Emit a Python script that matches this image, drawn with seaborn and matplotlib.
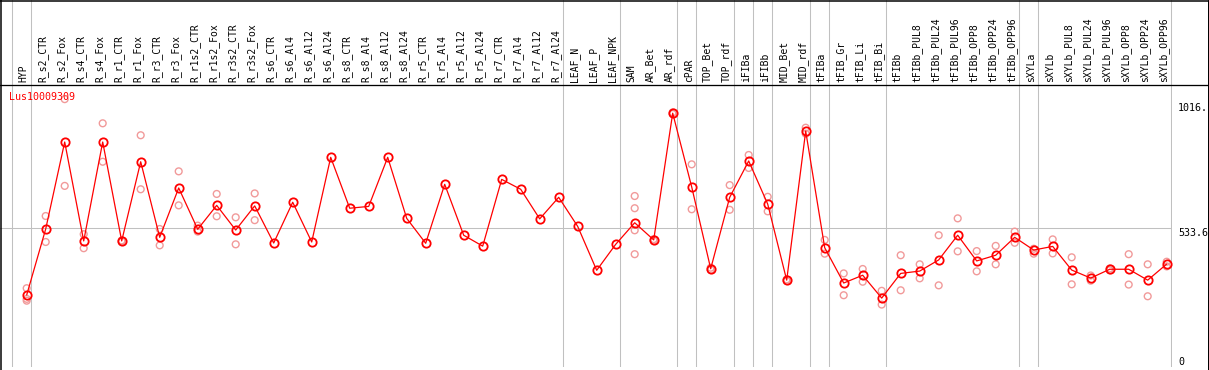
import numpy as np
import pandas as pd
import matplotlib
matplotlib.use("Agg")
import matplotlib.pyplot as plt
import seaborn as sns

nan = np.nan

categories = [
    "HYP", "R_s2_CTR", "R_s2_Fox", "R_s4_CTR", "R_s4_Fox", "R_r1_CTR", "R_r1_Fox",
    "R_r3_CTR", "R_r3_Fox", "R_r1s2_CTR", "R_r1s2_Fox", "R_r3s2_CTR", "R_r3s2_Fox",
    "R_s6_CTR", "R_s6_Al4", "R_s6_Al12", "R_s6_Al24", "R_s8_CTR", "R_s8_Al4",
    "R_s8_Al12", "R_s8_Al24", "R_r5_CTR", "R_r5_Al4", "R_r5_Al12", "R_r5_Al24",
    "R_r7_CTR", "R_r7_Al4", "R_r7_Al12", "R_r7_Al24", "LEAF_N", "LEAF_P", "LEAF_NPK",
    "SAM", "AR_Bet", "AR_rdf", "cPAR", "TOP_Bet", "TOP_rdf", "iFIBa", "iFIBb",
    "MID_Bet", "MID_rdf", "tFIBa", "tFIB_Gr", "tFIB_Li", "tFIB_Bi", "tFIBb",
    "tFIBb_PUL8", "tFIBb_PUL24", "tFIBb_PUL96", "tFIBb_OPP8", "tFIBb_OPP24", "tFIBb_OPP96",
    "sXYLa", "sXYLb", "sXYLb_PUL8", "sXYLb_PUL24", "sXYLb_PUL96", "sXYLb_OPP8",
    "sXYLb_OPP24", "sXYLb_OPP96",
]

mean_values = [
    277, 531, 866, 485, 866, 485, 790, 499, 689, 530, 622, 527, 620,
    477, 634, 481, 807, 611, 618, 807, 572, 476, 703, 507, 465,
    722, 684, 570, 653, 541, 372, 472,
    555, 489, 977, 693, 378, 653, 793, 627, 334, 908,
    459, 323, 353, 265, 360, 369, 412, 507, 408, 430, 499,
    450, 464, 373, 342, 376, 376, 334, 396,
]

rep_a = [
    303, 581, 1031, 511, 938, 487, 892, 531, 753, 544, 666, 576, 668,
    nan, nan, nan, nan, nan, nan, nan, nan, nan, nan, nan, nan,
    nan, nan, nan, nan, nan, nan, nan,
    658, 492, 980, 780, 382, 700, 816, 655, 337, 921,
    489, 360, 377, 293, 430, 395, 507, 572, 446, 466, 521,
    455, 491, 422, 352, 379, 434, 395, 405,
]

rep_b = [
    262, 481, 697, 457, 790, 483, 684, 468, 622, 521, 580, 472, 565,
    nan, nan, nan, nan, nan, nan, nan, nan, nan, nan, nan, nan,
    nan, nan, nan, nan, nan, nan, nan,
    611, 486, 974, 607, 374, 605, 766, 599, 331, 898,
    436, 276, 328, 240, 295, 341, 314, 445, 368, 395, 478,
    436, 437, 318, 332, 372, 317, 272, 387,
]

rep_c = [255] + [nan] * 31 + [526] + [nan] * 28
rep_d = [nan] * 32 + [434] + [nan] * 28

group_sizes = [1, 28, 3, 3, 1, 2, 1, 1, 2, 1, 3, 7, 1, 7]
y_ticks = [0, 533.6, 1016]
y_tick_labels = ["0", "533.6", "1016."]
title = "Lus10009309"

# ---------------- data frames ----------------
n = len(categories)
idx = np.arange(n)
df_mean = pd.DataFrame({"idx": idx, "category": categories, "value": mean_values})
df_rep = pd.concat(
    [pd.DataFrame({"idx": idx, "value": r}) for r in (rep_a, rep_b, rep_c, rep_d)],
    ignore_index=True,
).dropna()

# ---------------- styling ----------------
sns.set_theme(style="white")
plt.rcParams["font.family"] = ["DejaVu Sans Mono", "DejaVu Sans"]

W, H = 1209, 370
fig = plt.figure(figsize=(W / 100, H / 100), dpi=100)
fig.patch.set_facecolor("white")

x0, step = 26.7, 19.0          # pixel position of first category, spacing
plot_left, plot_right = 0.0, 1172.0
plot_top, plot_bottom = 85.0, 366.9
px_per_unit = 0.2597

ax = fig.add_axes([plot_left / W, (H - plot_bottom) / H,
                   (plot_right - plot_left) / W, (plot_bottom - plot_top) / H])
ax.set_facecolor("none")
hdr = fig.add_axes([plot_left / W, (H - plot_top) / H,
                    (1208 - plot_left) / W, plot_top / H])
hdr.set_facecolor("none")

ax.set_xlim((plot_left - x0) / step, (plot_right - x0) / step)
ax.set_ylim(0, (plot_bottom - plot_top) / px_per_unit)
hdr.set_xlim((plot_left - x0) / step, (1208 - x0) / step)
hdr.set_ylim(0, plot_top)

grid_c = "#c0c0c0"
# group separators
bounds = np.cumsum([0] + group_sizes) - 1 + 4.0 / step
for b in bounds:
    ax.axvline(b, color=grid_c, lw=0.75, zorder=0)
    hdr.axvline(b, color=grid_c, lw=0.75, zorder=0)
ax.axhline(533.6, color=grid_c, lw=0.75, zorder=0)

# replicates
sns.scatterplot(data=df_rep, x="idx", y="value", ax=ax, marker="o", s=24,
                color="#f19a9a", facecolors="none", edgecolors="#f19a9a",
                linewidth=1.0, zorder=2, legend=False)
for c in ax.collections:
    c.set_facecolor("none")

# mean line
sns.lineplot(data=df_mean, x="idx", y="value", ax=ax, color="red", lw=0.9,
             marker="o", ms=6, mfc="none", mec="red", mew=1.3,
             errorbar=None, sort=False, zorder=3, legend=False)

for a in (ax, hdr):
    for s in a.spines.values():
        s.set_visible(False)
ax.set_xlabel("")
ax.set_ylabel("")
ax.set_xticks([])
hdr.set_xticks([])
hdr.set_yticks([])

ax.yaxis.tick_right()
ax.set_yticks(y_ticks)
ax.set_yticklabels(y_tick_labels)
ax.tick_params(axis="y", length=0, pad=4.3, labelsize=7.2, colors="black")
for lbl, v in zip(ax.get_yticklabels(), y_ticks):
    lbl.set_verticalalignment("bottom" if v == 0 else "top")

# rotated category labels
for i, cat in enumerate(categories):
    hdr.text(i - 3.0 / step, 3, cat, rotation=90, ha="center", va="bottom",
             fontsize=7, color="black")

# frame overlay
frame = fig.add_axes([0, 0, 1, 1])
frame.set_xlim(0, W)
frame.set_ylim(H, 0)
frame.axis("off")
frame.patch.set_visible(False)
lw_px = 0.72
frame.plot([0.5, 0.5], [0, H], color="black", lw=lw_px * 1.5)
frame.plot([0, W], [0.5, 0.5], color="black", lw=lw_px * 1.5)
frame.plot([W - 1, W - 1], [0, H], color="black", lw=lw_px)
frame.plot([0, W], [H - 0.5, H - 0.5], color="black", lw=lw_px)
frame.plot([0, W], [plot_top, plot_top], color="black", lw=lw_px * 1.3)
frame.text(9, 97, title, color="red", ha="left", va="center", fontsize=7.2)

fig.savefig("out.png", dpi=100, facecolor="white")
